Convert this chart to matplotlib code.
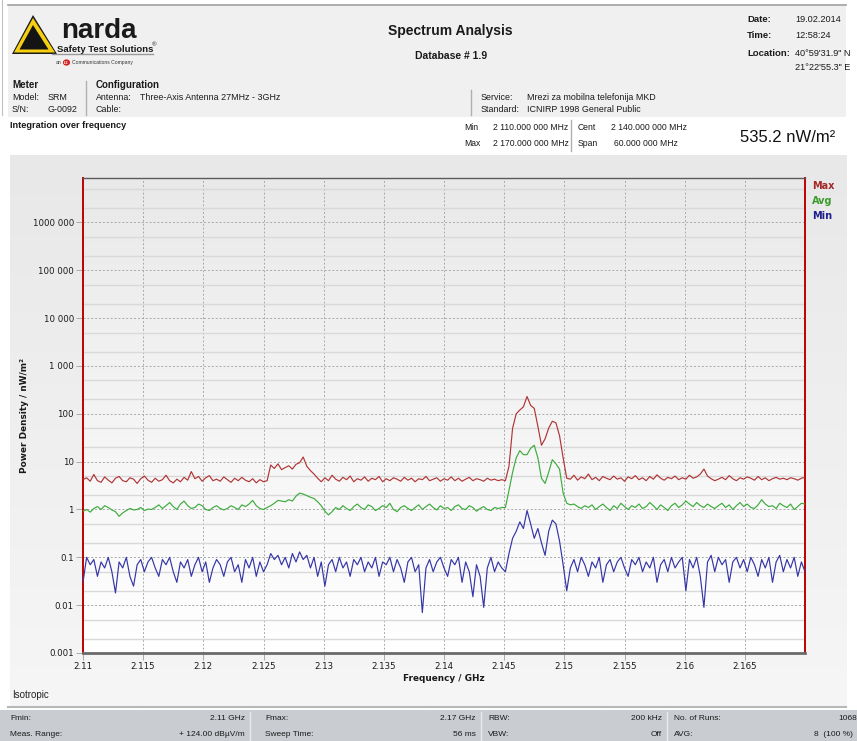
import numpy as np
import matplotlib
matplotlib.use("Agg")
import matplotlib.pyplot as plt
from matplotlib.patches import Rectangle, Polygon, Circle
from matplotlib.lines import Line2D
from matplotlib.colors import LinearSegmentedColormap
from matplotlib.ticker import FixedLocator, LogLocator, NullFormatter

# ---------------- data ----------------
F_START = 2.11   # GHz
F_STOP = 2.17    # GHz

max_vals = [
    4.2, 4.6, 3.9, 5.4, 4.0, 3.7, 4.8, 4.1, 3.6, 4.5,
    4.9, 4.0, 3.8, 4.6, 4.3, 3.5, 4.4, 5.0, 4.1, 3.7,
    4.5, 3.9, 4.2, 5.2, 4.0, 3.6, 4.3, 3.8, 4.7, 4.1,
    6.2, 4.4, 4.9, 3.9, 4.6, 5.1, 4.0, 4.3, 3.9, 4.8,
    4.2, 3.7, 4.5, 4.0, 4.7, 4.1, 3.8, 4.4, 3.6, 4.2,
    3.8, 4.0,
    8.5, 7.2, 9.0, 6.8, 7.5, 8.2, 7.0, 8.8, 9.5, 12.5, 8.0, 6.5, 5.5, 4.5,
    3.8, 4.6, 4.0, 5.2, 4.3, 3.9, 4.7, 4.2, 5.0, 3.8, 4.4, 4.1, 4.8, 3.9,
    4.5, 4.2, 4.9, 3.8, 4.4, 4.0, 4.6, 4.3, 3.9, 4.7,
    4.1, 4.5, 3.8, 4.4, 4.2, 4.9, 4.0, 4.3, 4.6, 3.9,
    4.4, 4.1, 4.8, 4.0, 4.5, 3.9, 4.3, 4.7, 4.0, 4.4,
    4.2, 3.9, 4.5, 4.1, 4.3, 4.0, 4.2,
    4.0, 8.0, 50, 100, 120, 140, 230, 150, 130, 55, 22, 30, 50, 70, 65, 35, 12, 4.5,
    4.3, 5.2, 4.1, 4.8, 4.4, 5.5, 4.2, 4.7, 4.0, 4.9,
    4.5, 4.2, 5.0, 4.3, 4.6, 3.9, 4.8, 4.4, 5.1, 4.2,
    4.6, 4.0, 4.9, 4.3, 5.3, 4.5, 4.1, 4.7, 4.4, 5.0,
    4.2, 4.6, 4.3, 5.2, 4.5, 4.8, 5.5, 7.0, 5.0, 4.4,
    4.0, 4.3, 4.7, 4.2, 5.1, 4.4, 4.0, 4.6, 4.3, 4.8,
    4.5, 4.1, 4.9, 4.2, 4.6, 4.0, 4.4, 4.7, 4.3, 4.5,
    4.2, 4.6, 4.4, 4.1, 4.5, 4.7,
]

avg_vals = [
    0.92, 1.0, 0.88, 1.05, 1.15, 1.0, 1.2, 1.1, 0.98, 0.9,
    0.72, 0.85, 0.95, 1.05, 0.98, 1.0, 1.1, 0.95, 1.02, 1.0,
    1.1, 1.25, 1.05, 1.2, 1.4, 1.15, 1.0, 1.3, 1.5, 1.2,
    1.05, 1.1, 1.3, 1.2, 1.0, 0.95, 1.1, 1.2, 1.05, 0.98,
    1.05, 1.2, 1.1, 1.0, 1.25, 1.15, 1.3, 1.55, 1.2, 1.05, 1.0, 1.1,
    1.2, 1.35, 1.55, 1.5, 1.45, 1.6, 1.5, 1.9, 2.2, 2.1, 1.95, 1.8, 1.7, 1.45, 1.2, 0.92, 0.77, 0.9,
    1.1, 1.0, 1.2, 1.05, 0.95, 1.15, 1.3, 1.1, 1.0, 1.25,
    1.15, 0.95, 1.05, 1.2, 1.1, 1.35, 1.0, 0.9, 1.1, 1.2,
    1.05, 0.95, 1.1, 1.25, 1.0, 1.15, 1.3, 1.1, 0.98, 1.2,
    1.05, 1.1, 0.95, 1.15, 1.25, 1.05, 1.0, 1.2, 1.1, 0.92,
    1.05, 1.15, 1.0, 0.95, 1.1, 1.05, 1.1,
    1.1, 2.5, 6.0, 12, 17, 14, 14, 19, 22, 12, 4.5, 3.5, 6.0, 11, 9.0, 7.0, 2.2, 1.35, 1.25,
    1.3, 1.15, 1.05, 1.2, 1.1, 1.25, 1.0, 1.15, 1.3, 1.1,
    0.95, 1.2, 1.05, 1.35, 1.15, 1.0, 1.2, 1.1, 1.3, 1.05,
    1.15, 1.4, 1.2, 1.0, 1.25, 1.1, 0.95, 1.2, 1.35, 1.1,
    1.25, 1.5, 1.3, 1.15, 1.4, 1.2, 1.1, 1.3, 1.15, 1.05,
    1.2, 1.35, 1.1, 1.25, 1.0, 1.2, 1.4, 1.15, 1.3, 1.1,
    1.05, 1.25, 1.6, 1.3, 1.15, 1.2, 1.05, 1.35, 1.2, 1.1,
    1.3, 1.0, 1.15, 1.35, 1.3,
]

min_vals = [
    0.03, 0.1, 0.07, 0.09, 0.04, 0.08, 0.06, 0.1, 0.05, 0.018,
    0.08, 0.06, 0.1, 0.04, 0.025, 0.07, 0.09, 0.05, 0.08, 0.1,
    0.06, 0.04, 0.09, 0.07, 0.1, 0.05, 0.03, 0.08, 0.06, 0.09,
    0.04, 0.07, 0.1, 0.05, 0.08, 0.03, 0.06, 0.09, 0.07, 0.04,
    0.08, 0.1, 0.05, 0.07, 0.03, 0.09, 0.06, 0.1, 0.04, 0.08,
    0.05, 0.07, 0.12, 0.09, 0.11, 0.07, 0.1, 0.06, 0.12, 0.08,
    0.13, 0.09, 0.11, 0.06, 0.1, 0.04, 0.08, 0.025, 0.07, 0.09,
    0.05, 0.1, 0.06, 0.08, 0.04, 0.09, 0.07, 0.1, 0.05, 0.08,
    0.06, 0.1, 0.04, 0.08, 0.07, 0.1, 0.05, 0.09, 0.06, 0.03,
    0.08, 0.1, 0.05, 0.07, 0.007, 0.06, 0.09, 0.05, 0.08, 0.1,
    0.06, 0.04, 0.09, 0.07, 0.1, 0.03, 0.08, 0.05, 0.015, 0.07,
    0.04, 0.009, 0.06, 0.1, 0.05, 0.08, 0.06,
    0.05, 0.12, 0.25, 0.35, 0.55, 0.4, 0.95, 0.5, 0.25, 0.4, 0.2, 0.11, 0.35, 0.6, 0.5, 0.22, 0.07, 0.02, 0.06,
    0.09, 0.05, 0.1, 0.07, 0.04, 0.08, 0.06, 0.1, 0.03, 0.07,
    0.09, 0.05, 0.08, 0.1, 0.06, 0.04, 0.09, 0.07, 0.1, 0.05,
    0.08, 0.06, 0.1, 0.03, 0.07, 0.09, 0.05, 0.1, 0.06, 0.08,
    0.1, 0.02, 0.09, 0.06, 0.1, 0.04, 0.009, 0.08, 0.11, 0.05,
    0.1, 0.07, 0.09, 0.03, 0.08, 0.1, 0.06, 0.09, 0.05, 0.1,
    0.07, 0.04, 0.09, 0.06, 0.1, 0.03, 0.08, 0.11, 0.05, 0.09,
    0.06, 0.1, 0.04, 0.08, 0.05,
]

y_tick_vals = [1e6, 1e5, 1e4, 1e3, 100, 10, 1, 0.1, 0.01, 0.001]
y_tick_labels = ["1000 000", "100 000", "10 000", "1 000", "100", "10", "1", "0.1", "0.01", "0.001"]
x_tick_vals = [2.11, 2.115, 2.12, 2.125, 2.13, 2.135, 2.14, 2.145, 2.15, 2.155, 2.16, 2.165]
x_tick_labels = ["2.11", "2.115", "2.12", "2.125", "2.13", "2.135", "2.14", "2.145", "2.15", "2.155", "2.16", "2.165"]
series_names = ["Max", "Avg", "Min"]

# ---------------- figure ----------------
W, H = 857, 741
fig = plt.figure(figsize=(W / 100, H / 100), dpi=100, facecolor="white")

def fx(x):
    return x / W

def fy(y):
    return 1 - y / H

HF = ["Liberation Sans", "DejaVu Sans"]

def txt(x, y, s, size=7, weight="normal", ha="left", va="center", color="#1a1a1a", family=HF, **kw):
    fig.text(fx(x), fy(y), s, fontsize=size, fontweight=weight, ha=ha, va=va,
             color=color, family=family, **kw)

def rect(x0, y0, x1, y1, color, z=-30, **kw):
    fig.add_artist(Rectangle((fx(x0), fy(y1)), (x1 - x0) / W, (y1 - y0) / H,
                             transform=fig.transFigure, facecolor=color,
                             edgecolor="none", zorder=z, **kw))

def hline(x0, x1, y, color, lw=1, z=-5):
    fig.add_artist(Line2D([fx(x0), fx(x1)], [fy(y), fy(y)], transform=fig.transFigure,
                          color=color, lw=lw, zorder=z))

def vline(x, y0, y1, color, lw=1, z=-5):
    fig.add_artist(Line2D([fx(x), fx(x)], [fy(y0), fy(y1)], transform=fig.transFigure,
                          color=color, lw=lw, zorder=z))

# header background
rect(8, 5, 846, 117, "#f0f0f0")
hline(8, 846, 5, "#a0a0a0", lw=1.2)
vline(2, 0, 115, "#c0c0c0", lw=0.8)

# chart panel gradient background
bg = fig.add_axes([fx(10), fy(706), 837 / W, 551 / H], zorder=-20)
bg.imshow(np.linspace(0, 1, 256).reshape(-1, 1), aspect="auto",
          cmap=LinearSegmentedColormap.from_list("g1", ["#e8e8e8", "#f6f6f6"]),
          extent=[0, 1, 0, 1])
bg.set_axis_off()

# plot area gradient
ax_pos = [fx(83), fy(653), (805 - 83) / W, (653 - 178) / H]
pbg = fig.add_axes(ax_pos, zorder=-10)
pbg.imshow(np.linspace(0, 1, 256).reshape(-1, 1), aspect="auto",
           cmap=LinearSegmentedColormap.from_list("g2", ["#e9e9e9", "#ffffff"]),
           extent=[0, 1, 0, 1])
pbg.set_axis_off()

# bottom separator + status bar
hline(8, 846, 707, "#b8b8b8", lw=1.5)
rect(0, 710, 857, 741, "#c9cdd2")
for xs in [250, 481, 667]:
    vline(xs, 712, 741, "#e8eaee", lw=1.0)

# ---------------- logo ----------------
def poly(pts, **kw):
    fig.add_artist(Polygon([(fx(x), fy(y)) for x, y in pts], closed=True,
                           transform=fig.transFigure, **kw))

poly([(12, 54), (33, 15), (57, 54)], facecolor="#1a1a1a", edgecolor="none", zorder=2)
poly([(14, 52.5), (33, 18), (55, 52.5)], facecolor="#f5cf10", edgecolor="none", zorder=2)
poly([(19.5, 49.5), (33, 25), (48.5, 49.5)], facecolor="#141414", edgecolor="none", zorder=2)
hline(52, 153, 53.5, "#9a9a9a", lw=1.0, z=2)
txt(61, 37.5, "narda", size=20, weight="bold", color="#1a1a1a", va="baseline")
txt(57, 51.5, "Safety Test Solutions", size=6.8, weight="bold", color="#1a1a1a", va="baseline")
txt(152, 44.5, "®", size=4.5, color="#1a1a1a")
txt(56, 62.5, "an", size=3.6, color="#333333")
fig.add_artist(Circle((fx(66.5), fy(62.5)), 3.6 / W, transform=fig.transFigure,
                      facecolor="#d42020", edgecolor="none", zorder=2))
txt(66.5, 62.5, "L3", size=2.8, weight="bold", ha="center", color="white")
txt(71.5, 62.5, "Communications Company", size=3.6, color="#333333")

# ---------------- header texts ----------------
txt(450, 31, "Spectrum Analysis", size=10, weight="bold", ha="center")
txt(451, 56, "Database # 1.9", size=7.5, weight="bold", ha="center")

txt(747, 19, "Date:", size=6.8, weight="bold")
txt(795, 19, "19.02.2014", size=6.6)
txt(747, 36, "Time:", size=6.8, weight="bold")
txt(795, 36, "12:58:24", size=6.6)
txt(747, 53, "Location:", size=6.8, weight="bold")
txt(795, 53, "40°59'31.9\" N", size=6.6)
txt(795, 68, "21°22'55.3\" E", size=6.6)

txt(12, 85, "Meter", size=7, weight="bold")
txt(12, 97.5, "Model:", size=6.4)
txt(48, 97.5, "SRM", size=6.4)
txt(12, 110, "S/N:", size=6.4)
txt(48, 110, "G-0092", size=6.4)
vline(86, 81, 115, "#b0b0b0", lw=1.0)
txt(96, 85, "Configuration", size=7, weight="bold")
txt(96, 97.5, "Antenna:", size=6.4)
txt(140, 97.5, "Three-Axis Antenna 27MHz - 3GHz", size=6.4)
txt(96, 110, "Cable:", size=6.4)

vline(471, 90, 115, "#b0b0b0", lw=1.0)
txt(481, 97.5, "Service:", size=6.4)
txt(527, 97.5, "Mrezi za mobilna telefonija MKD", size=6.4)
txt(481, 110, "Standard:", size=6.4)
txt(527, 110, "ICNIRP 1998 General Public", size=6.4)

txt(10, 125, "Integration over frequency", size=6.6, weight="bold")
txt(464, 127, "Min", size=6.2)
txt(493, 127, "2 110.000 000 MHz", size=6.2)
txt(464, 144, "Max", size=6.2)
txt(493, 144, "2 170.000 000 MHz", size=6.2)
vline(571, 120, 151, "#b0b0b0", lw=1.0)
txt(578, 127, "Cent", size=6.2)
txt(611, 127, "2 140.000 000 MHz", size=6.2)
txt(578, 144, "Span", size=6.2)
txt(614, 144, "60.000 000 MHz", size=6.2)
txt(740, 137, "535.2 nW/m²", size=12, color="#111111")

# ---------------- chart ----------------
ax = fig.add_axes(ax_pos, zorder=0)
ax.set_facecolor("none")
freq = np.linspace(F_START, F_STOP, len(max_vals))
colors = {"Max": "#b03535", "Avg": "#3dac3d", "Min": "#3535a8"}
ax.plot(freq, min_vals, color=colors["Min"], lw=0.85, zorder=3)
ax.plot(freq, avg_vals, color=colors["Avg"], lw=0.85, zorder=3)
ax.plot(freq, max_vals, color=colors["Max"], lw=0.85, zorder=3)

ax.set_yscale("log")
ax.set_xlim(F_START, F_STOP)
ax.set_ylim(0.001, 8.5e6)
ax.yaxis.set_major_locator(FixedLocator(y_tick_vals))
ax.set_yticklabels(y_tick_labels)
ax.yaxis.set_minor_locator(LogLocator(base=10, subs=(2.0, 5.0), numticks=30))
ax.yaxis.set_minor_formatter(NullFormatter())
ax.set_xticks(x_tick_vals)
ax.set_xticklabels(x_tick_labels)

ax.grid(which="major", axis="both", color="#a9a9a9", ls=(0, (2, 2)), lw=0.7, zorder=1)
ax.grid(which="minor", axis="y", color="#d9d9d9", ls="-", lw=1.0, zorder=1)
ax.set_axisbelow(True)
ax.tick_params(axis="both", which="major", length=5, width=0.7, color="#a9a9a9",
               labelsize=6.2, labelcolor="#1a1a1a", pad=1.5)
ax.tick_params(axis="y", which="minor", length=0)
for lab in ax.get_xticklabels() + ax.get_yticklabels():
    lab.set_family("DejaVu Sans")

for side in ["left", "right"]:
    ax.spines[side].set_color("#c00000")
    ax.spines[side].set_linewidth(1.4)
ax.spines["top"].set_color("#5a5a5a")
ax.spines["top"].set_linewidth(1.0)
ax.spines["bottom"].set_color("#6a6a6a")
ax.spines["bottom"].set_linewidth(2.0)

ax.set_xlabel("Frequency / GHz", fontsize=6.4, fontweight="bold", family="DejaVu Sans",
              color="#1a1a1a", labelpad=2)
ax.set_ylabel("Power Density / nW/m²", fontsize=6.4, fontweight="bold", family="DejaVu Sans",
              color="#1a1a1a", labelpad=3)

legend_colors = {"Max": "#a52828", "Avg": "#3a9a2a", "Min": "#1f1f8f"}
for i, name in enumerate(series_names):
    txt(812, 186 + 15 * i, name, size=7, weight="bold", color=legend_colors[name],
        family="DejaVu Sans")

# ---------------- bottom texts ----------------
txt(12, 695, "Isotropic", size=7, color="#222222")
BS = 6.0
txt(10, 719, "Fmin:", size=BS)
txt(245, 719, "2.11 GHz", size=BS, ha="right")
txt(265, 719, "Fmax:", size=BS)
txt(476, 719, "2.17 GHz", size=BS, ha="right")
txt(488, 719, "RBW:", size=BS)
txt(662, 719, "200 kHz", size=BS, ha="right")
txt(674, 719, "No. of Runs:", size=BS)
txt(838, 719, "1068", size=BS)
txt(10, 735, "Meas. Range:", size=BS)
txt(245, 735, "+ 124.00 dBµV/m", size=BS, ha="right")
txt(265, 735, "Sweep Time:", size=BS)
txt(476, 735, "56 ms", size=BS, ha="right")
txt(488, 735, "VBW:", size=BS)
txt(662, 735, "Off", size=BS, ha="right")
txt(674, 735, "AVG:", size=BS)
txt(814, 735, "8  (100 %)", size=BS)

fig.savefig("out.png", dpi=100, facecolor=fig.get_facecolor())
